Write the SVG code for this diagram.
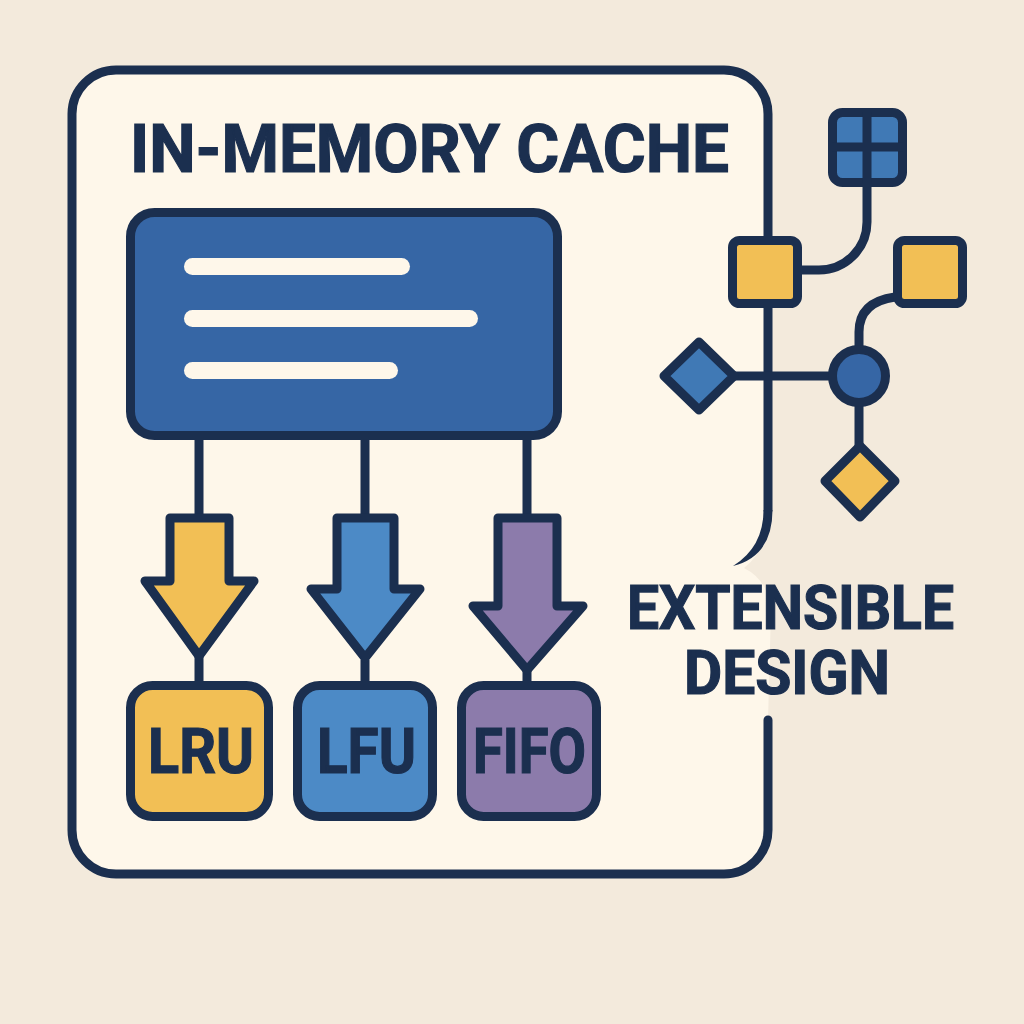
<svg xmlns="http://www.w3.org/2000/svg" width="1024" height="1024" viewBox="0 0 1024 1024">
<style>
.s{stroke:#1b2f4f;stroke-width:9;stroke-linejoin:round;stroke-linecap:round}
.c{fill:none;stroke:#1b2f4f;stroke-width:9}
.t{font-family:Roboto,"Liberation Sans",sans-serif;font-weight:700;fill:#1b2f4f;stroke:#1b2f4f;stroke-width:1.200}
.y{fill:#f2bf55}.b{fill:#4c8ac6}.p{fill:#8c7bab}.d{fill:#3666a5}.m{fill:#4079b5}
</style>
<rect width="1024" height="1024" fill="#f3eadc"/>
<g id="panel">
<path d="M768 720V830A44 44 0 0 1 724 874H116A44 44 0 0 1 72 830V114A44 44 0 0 1 116 70H724A44 44 0 0 1 768 114V510Q768 550 744 568Q768 580 771 610Z" fill="#fef7ea"/>
<path d="M768 510V114A44 44 0 0 0 724 70H116A44 44 0 0 0 72 114V830A44 44 0 0 0 116 874H724A44 44 0 0 0 768 830V720" class="c" stroke-linecap="round"/>
<path d="M763.500 510Q763.500 547 733 566Q772.500 556 772.500 510Z" fill="#1b2f4f"/>
</g>
<text class="t" x="130" y="172" font-size="67" textLength="599" lengthAdjust="spacingAndGlyphs">IN-MEMORY CACHE</text>
<g id="connectors" class="c">
<path d="M199 436V518M365 436V518M527 436V518M199 652V686M365 660V686M527 668V686"/>
<path d="M867 180V222A48 48 0 0 1 819 270H798"/>
<path d="M859 350V332Q859 302 895 297"/>
<path d="M734 376H832M859 400V450"/>
</g>
<g id="main"><rect x="130.500" y="212.500" width="427" height="223" rx="24" class="d s"/>
<g fill="#fef7ea"><rect x="184" y="258" width="226" height="17" rx="8.500"/><rect x="184" y="310" width="294" height="17" rx="8.500"/><rect x="184" y="362" width="214" height="17" rx="8.500"/></g></g>
<g id="arrow-lru"><path d="M170 518H229V581H254L199 656L145 581H170Z" class="y s"/></g>
<g id="arrow-lfu"><path d="M337 518H394V589H420L365 658L311 589H337Z" class="b s"/></g>
<g id="arrow-fifo"><path d="M498 518H557V606H583L527 670L473 606H498Z" class="p s"/></g>
<g id="lru"><rect x="130.500" y="685.500" width="138" height="131" rx="22" class="y s"/><text class="t" x="148" y="773" font-size="63" textLength="106" lengthAdjust="spacingAndGlyphs">LRU</text></g>
<g id="lfu"><rect x="297.500" y="685.500" width="135" height="131" rx="22" class="b s"/><text class="t" x="317" y="773" font-size="63" textLength="99" lengthAdjust="spacingAndGlyphs">LFU</text></g>
<g id="fifo"><rect x="461.500" y="685.500" width="135" height="131" rx="22" class="p s"/><text class="t" x="473" y="773" font-size="63" textLength="113" lengthAdjust="spacingAndGlyphs">FIFO</text></g>
<g id="grid"><rect x="832.500" y="112.500" width="70" height="70" rx="10" class="m s"/><path d="M867 112V183M832 147H903" class="c"/></g>
<g id="sq1"><rect x="732.500" y="240.500" width="65" height="63" rx="7" class="y s"/></g>
<g id="sq2"><rect x="897.500" y="240.500" width="65" height="63" rx="7" class="y s"/></g>
<g id="diamond1"><path d="M699 342L734 376L699 410L664 376Z" class="m s"/></g>
<g id="circle"><circle cx="859" cy="376" r="26.500" class="d s"/></g>
<g id="diamond2"><path d="M860 446L895 481L860 517L825 481Z" class="y s"/></g>
<text class="t" x="627" y="629" font-size="62" textLength="327" lengthAdjust="spacingAndGlyphs">EXTENSIBLE</text>
<text class="t" x="684" y="694" font-size="62" textLength="206" lengthAdjust="spacingAndGlyphs">DESIGN</text>
</svg>
